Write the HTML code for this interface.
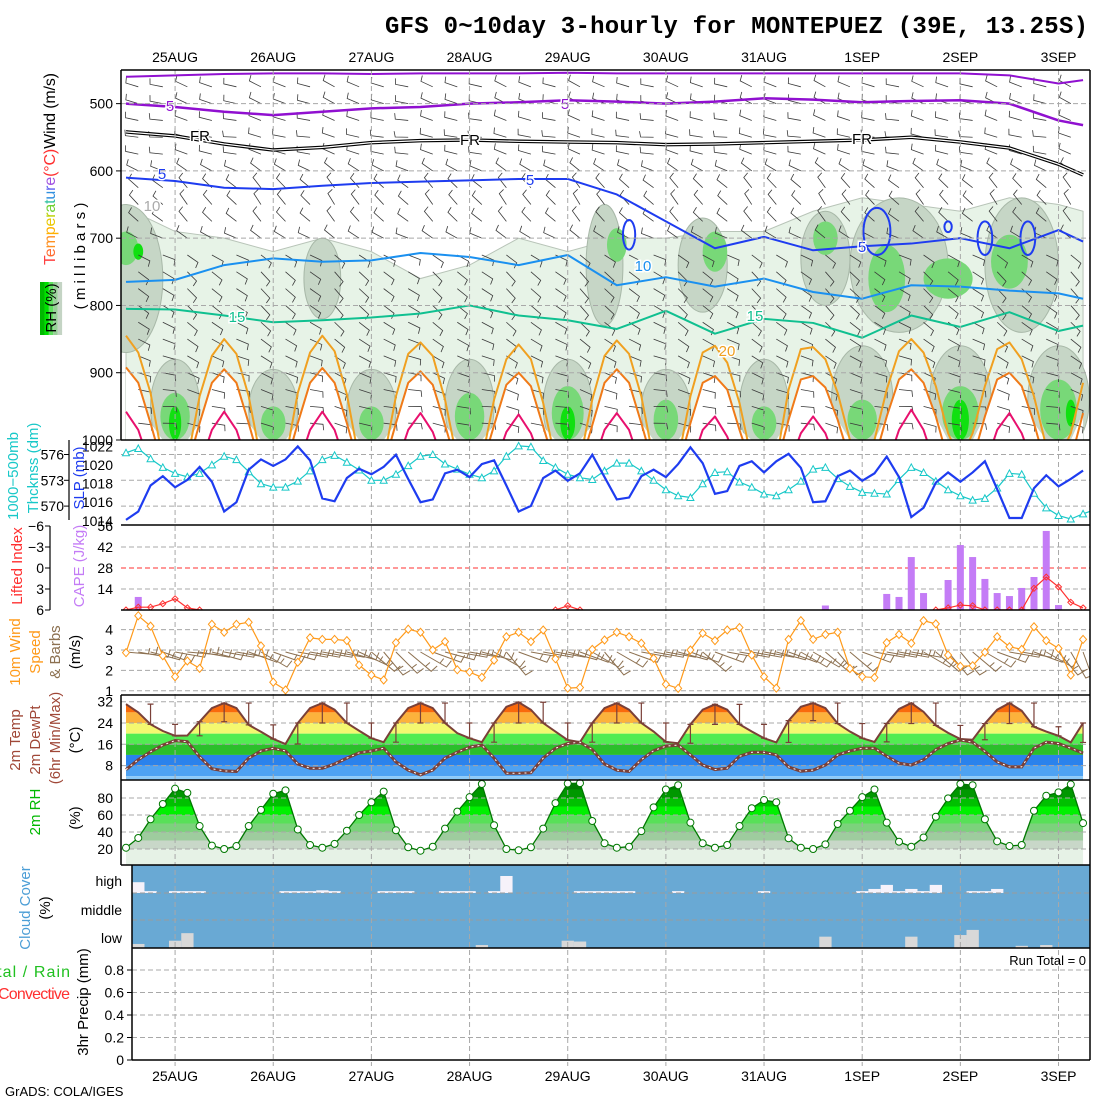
<!DOCTYPE html>
<html><head><meta charset="utf-8"><title>GFS meteogram MONTEPUEZ</title>
<style>
html,body{margin:0;padding:0;background:#fff;}
svg{display:block;font-family:"Liberation Sans",sans-serif;}
</style></head>
<body>
<svg id="chart" width="1100" height="1100" viewBox="0 0 1100 1100" xmlns="http://www.w3.org/2000/svg">
<defs>
<clipPath id="cTop"><rect x="121" y="70" width="969" height="370"/></clipPath>
<clipPath id="cSlp"><rect x="121" y="440" width="969" height="85"/></clipPath>
<clipPath id="cCape"><rect x="121" y="525" width="969" height="85"/></clipPath>
<clipPath id="cWind"><rect x="121" y="610" width="969" height="85"/></clipPath>
<clipPath id="cCloud"><rect x="132" y="865" width="958" height="83"/></clipPath>
</defs>
<rect x="0" y="0" width="1100" height="1100" fill="#fff"/>
<text x="385" y="33" font-family="'Liberation Mono',monospace" font-weight="bold" font-size="24" textLength="703">GFS 0~10day 3-hourly for MONTEPUEZ (39E, 13.25S)</text>
</svg>
<script>
// ---------- data ----------
const dates=['25AUG','26AUG','27AUG','28AUG','29AUG','30AUG','31AUG','1SEP','2SEP','3SEP'];
const slp=[1014.1,1015,1017.8,1018.8,1017.6,1018.4,1019.8,1018.2,1015,1016,1019.5,1020.6,1019.9,1020.6,1022,1020.5,1016.4,1016.1,1018.6,1019.6,1019,
1019.8,1021.1,1018.5,1016,1016.3,1019.1,1019.5,1018.7,1020.1,1020.5,1017.8,1015,1015.6,1018.6,1019.4,1018.3,1019.1,1021.1,1018.7,1016.3,1016.5,1018.8,1019.5,1018.7,1020.1,1021.9,1020.2,1016.9,1017.2,1019.9,
1020.4,1019.2,1020.4,1021.2,1019.7,1016,1016.1,1018.8,1019.4,1018.3,1019.1,1020.9,1018.7,1014.4,1015.4,1018.1,1019.2,1018.2,1019.2,1020.4,1017.4,1014.3,1014.3,1017.5,1018.9,1017.7,1018.5,1019.4];
const thick=[576.2,576.7,575.5,574.5,573.8,573.4,573.8,574.8,575.8,575.4,574,572.6,572.2,572.2,572.9,574.1,575.4,575.9,575.1,574.2,573,
573,573.7,574.7,575.8,576,574.9,574.3,573.7,573.3,574.1,575.8,577,576.9,575.3,574.5,573.7,573.3,573.1,574.1,575,575,574.1,573,571.9,571.2,571,572.6,573.9,574,572.8,
572.2,571.4,571.2,571.9,572.9,574.3,574.5,573.2,572.3,571.6,571.5,571.4,573.1,574.5,573.9,572.9,571.9,571.2,570.7,570.9,572.1,573.8,573.7,571.5,569.8,568.9,568.5,569.1,569.6];
const cape=[0,8.7,0,0,0,0,0,0,0,0, 0,0,0,0,0,0,0,0,0,0, 0,0,0,0,0,0,0,0,0,0, 0,0,0,0,0,0,0,0,0,0, 0,0,0,0,0,0,0,0,0,0,
0,0,0,0,0,0,0,3,0,0, 0,0,10.7,8.7,35.3,11.3,0,20,43.3,35.3, 20.7,11.3,9.3,14.7,22,52.7,3.3,0,0];
const liftIdx=[6,5.6,5.6,5.1,4.4,5.7,6,null,null,null, null,null,null,null,null,null,null,null,null,null, null,null,null,null,null,null,null,null,null,null,
null,null,null,null,null,6,5.4,6,null,null, null,null,null,null,null,null,null,null,null,null, null,null,null,null,null,null,null,null,null,null,
null,null,null,null,null,null,6,5.7,5.3,5.4, 6,6,6,6,2.9,1.3,2.7,4.9,5.7];
const wspd=[2.87,4.68,4.17,2.72,1.69,2.46,2.1,4.26,3.87,4.26,4.36,3.2,1.42,1.04,2.4,3.6,3.52,3.52,3.46,2.26,1.77,
1.53,3.36,4.02,3.87,3.0,3.41,2.03,1.92,1.66,2.5,3.65,3.87,3.41,3.98,2.57,1.13,1.16,3.03,3.49,3.87,3.65,3.33,2.59,1.32,1.12,3.0,3.82,3.46,3.98,4.1,
2.75,1.69,1.13,3.52,4.44,3.52,3.76,3.87,2.09,1.69,1.65,3.36,3.76,3.33,4.44,4.28,2.75,2.2,2.23,2.89,3.65,3.16,3.03,4.14,3.46,3.08,1.77,3.52];
const wdir=[95,100,105,110,100,95,100,105, 100,100,110,120,110,105,100,100, 100,100,105,115,130,140,135,130, 120,110,105,100,100,105,120,140,
110,100,100,100,105,110,120,140, 120,110,100,100,100,105,110,130, 110,100,100,100,100,105,110,120, 120,130,140,130,110,100,100,100,
100,120,130,140,140,130,120,110, 100,100,110,120,140,150,160];
const temp=[31.1,28,23.5,21,19.2,19.3,24.5,29.6,31.5,29.6,23.3,20.7,18,16.1,24,29.6,31.5,29,24,21.1,18.3,16.8,
24,29.6,31.5,29.6,24,20.2,18.3,16.8,24,30.1,31.8,29,24,20.8,17.6,16.8,24,29.6,31.5,29,24,20.8,16.9,16.4,23.5,29,31,29,23.5,
20.8,18.3,16.7,24.9,30.1,31.5,29.6,23.8,20.8,18.3,16.9,23.8,29.3,31.5,28.2,23.1,20.3,18,17.7,23.8,29,31.5,28.6,22.6,20.8,19.2,16.7,24];
const dewpt=[6.5,10.2,13.2,15.7,17.4,17,11.3,6.8,6,5.8,10.8,13.5,14.5,13.5,8.6,7,7,8.6,10.8,12.8,13.5,14.5,
9.4,6.3,4.5,6.3,10.8,13,14.9,15.7,10.8,5.1,5.1,5.3,10.8,14.5,16.3,16.8,14,8.6,6.3,5.8,10.2,13.6,15.3,15.7,12,8.2,6.5,7,11.5,
13,13,12,7.5,5.9,6.3,8.2,12,13.5,14.5,14.5,11.5,8.9,8.2,10.2,14,16.3,17.6,16.8,13.3,9.4,7.5,7.5,14.5,16.8,16.3,14.5,12.7];
const rh2m=[21.5,33,55,73,91,86,47,24,20,23.5,47,66,85,89,43,24.7,21.5,26,41.5,60,75,87.5,
42,22,18,22.7,44,64,81,96.5,48,20,18.5,22,44,74,97,97.5,53,26.7,21.5,22.7,41,69,90,95,51,26.7,21.5,24.7,47,
68,77.6,75,32.6,21.5,20,25.5,49.4,65,81,90,51,28.6,22.7,33.6,58,79.6,96.5,95,55,29,23.5,24.7,65,82.7,86.6,96,50.5];
const cloudHigh=[0,40,7,0,7,7,7,0,0,0, 0,0,0,7,7,7,10,7,0,0, 0,7,7,7,0,0,7,7,7,0, 7,63,0,0,0,0,0,7,7,7, 7,7,0,0,0,7,0,0,0,0,
0,0,7,0,0,0,0,0,0,0, 7,15,30,7,15,7,30,0,0,7, 7,15,0,0,0,0,0,0,0];
const cloudLow=[0,15,0,0,27,55,0,0,0,0, 0,0,0,0,0,0,0,0,0,0, 0,0,0,0,0,0,0,0,0,11, 0,0,0,0,0,0,27,24,0,0, 0,0,0,0,0,0,0,0,0,0,
0,0,0,0,0,0,0,42,0,0, 0,0,0,0,42,0,0,0,48,67, 0,0,0,8,0,11,0,0,0];
const precip=[];
const isoIdx=[0,4,8,12,16,20,24,28,32,36,40,44,48,52,56,60,64,68,72,76,78];
const isoM10=[460,458,456,455,455,456,455,455,455,454,455,455,455,455,455,455,455,455,458,470,465];
const isoM5=[500,505,512,517,512,507,505,500,498,495,497,500,497,492,494,498,496,495,500,525,532];
const isoFR=[542,548,560,569,565,558,555,554,556,557,558,561,560,558,556,554,550,557,566,590,606];
const iso5=[610,615,625,627,622,618,616,614,612,612,635,675,715,698,718,712,708,700,715,688,705];
const iso10=[765,762,740,730,735,733,722,728,740,725,770,758,772,760,780,790,770,772,778,782,790];
const iso15=[805,806,815,825,822,818,812,800,815,822,835,808,842,820,826,848,815,832,810,838,830];
const rhTop=[655,690,700,720,700,720,760,740,700,720,700,700,690,690,660,640,650,660,640,650,660];
const iso20=[845,870,930,1030,1050,1030,935,875, 850,872,935,1030,1050,1030,930,870, 845,868,932,1030,1050,1030,935,872,
855,875,940,1030,1050,1030,940,880, 858,880,945,1030,1050,1030,940,875, 852,872,935,1030,1050,1030,935,870,
860,885,945,1030,1050,1030,925,865, 862,880,930,1000,1030,1000,925,868, 850,870,920,990,1030,990,920,865, 855,880,935,1010,1030,990,915];
const iso25=[892,915,975,1040,1060,1040,975,915, 895,915,975,1040,1060,1040,975,915, 893,915,975,1040,1060,1040,975,915,
898,918,978,1040,1060,1040,978,918, 900,920,980,1040,1060,1040,978,915, 895,915,975,1040,1060,1040,975,915,
905,925,985,1040,1060,1040,970,910, 905,922,970,1030,1060,1030,965,910, 895,915,965,1030,1060,1030,965,910, 900,920,975,1040,1060,1030,960];
const iso30=[958,985,1040,1060,1060,1060,1040,985, 958,985,1040,1060,1060,1060,1040,985, 958,985,1040,1060,1060,1060,1040,985,
960,988,1040,1060,1060,1060,1040,988, 962,990,1040,1060,1060,1060,1040,985, 960,985,1040,1060,1060,1060,1040,985,
965,995,1045,1060,1060,1060,1040,990, 965,990,1040,1060,1060,1060,1040,985, 955,985,1040,1060,1060,1060,1040,985, 960,990,1040,1060,1060,1060,1040];
const rhBlobs=[[0,760,110,3,1],[0,715,25,1,2],[1,720,12,0.4,3],
[4,950,70,2,1],[12,955,60,2,1],[20,955,60,2,1],[28,950,70,2,1],[36,950,70,2,1],[44,955,60,2,1],[52,950,70,2,1],[60,940,80,2.5,1],[68,940,80,2.5,1],[76,940,80,2.5,1],
[16,760,60,1.5,1],[39,740,90,1.5,1],[47,740,70,2,1],[57,730,70,2,1],[63,740,100,4,1],[73,740,100,3,1],
[4,965,35,1.2,2],[12,975,25,1,2],[20,975,25,1,2],[28,965,35,1.2,2],[36,960,40,1.3,2],[44,970,30,1,2],[52,975,25,1,2],[60,970,30,1.2,2],[68,960,40,1.5,2],[76,955,45,1.5,2],
[40,710,25,0.8,2],[48,720,30,1,2],[57,700,25,1,2],[62,760,50,1.5,2],[67,760,30,2,2],[72,735,40,1.5,2],
[4,975,25,0.5,3],[36,975,25,0.6,3],[68,970,30,0.7,3],[77,960,20,0.4,3]];
const blueLoops=[[61.2,690,1.1,35],[67,683,0.3,8],[70,700,0.6,25],[73.5,700,0.6,25],[41,695,0.5,22]];
const barbLev=[475,500,525,550,575,600,625,650,675,700,725,750,775,800,825,850,875,900,925,950,975];
const barbDir=[290,290,285,280,285,300,315,320,315,300,120,130,130,130,125,120,115,110,105,100,100];
const pTicks=[500,600,700,800,900,1000];
const thkTicks=[576,573,570];
const slpTicks=[1022,1020,1018,1016,1014];
const liTicks=[-6,-3,0,3,6];
const capeTicks=[56,42,28,14];
const wsTicks=[4,3,2,1];
const tTicks=[32,24,16,8];
const rhTicks=[80,60,40,20];
const prTicks=[0.8,0.6,0.4,0.2,0];

// ---------- scales ----------
const X=i=>126+i*12.27;
const yP=p=>70+(p-450)*0.6727;
const ySlp=v=>465-(v-1020)*9.3;
const yThk=v=>480.3-(v-573)*8.6;
const yCape=v=>610-v*1.5;
const yLi=v=>568+v*7;
const yWs=v=>650-(v-3)*20.4;
const yT=v=>744.3-(v-16)*2.66;
const yRh=v=>849-(v-20)*0.85;
const yPr=v=>1060-v*112.5;

const NS='http://www.w3.org/2000/svg';
const svg=document.getElementById('chart');
function mk(tag,attrs,parent){const e=document.createElementNS(NS,tag);for(const k in attrs)e.setAttribute(k,attrs[k]);(parent||svg).appendChild(e);return e;}
function grp(clip){const g=mk('g',clip?{'clip-path':'url(#'+clip+')'}:{});return g;}
function txt(s,x,y,attrs,parent){const e=mk('text',Object.assign({x:x,y:y,'font-size':14},attrs||{}),parent);e.textContent=s;return e;}
const GRID='#a8a8a8';
let el;

// ---------- top panel: RH shading ----------
const gTop=grp('cTop');
el=gTop;


let pts=isoIdx.map((i,k)=>X(i)+','+yP(rhTop[k])).join(' ')+' '+X(78)+','+yP(1000)+' '+X(0)+','+yP(1000);
el=mk('polygon',{points:pts,fill:'#e7f3e7',stroke:'#b8c4b8','stroke-width':1},gTop);


const blobCol=['','#c6d6c6','#78d878','#10e010'];
for(const lev of [1,2,3]){
  for(const b of rhBlobs){ if(b[4]!==lev) continue;
    el=mk('ellipse',{cx:X(b[0]),cy:yP(b[1]),rx:b[3]*12.27,ry:b[2]*0.6727,fill:blobCol[lev],stroke:lev===1?'#a8b8a8':'none','stroke-width':1},gTop);
    
    
  }
}
pts=iso25.map((v,i)=>X(i)+','+yP(Math.min(v,1000))).join(' ')+' '+X(78)+','+yP(1000)+' '+X(0)+','+yP(1000);
el=mk('polygon',{points:pts,fill:'#ffffff'},gTop);



// ---------- fills: temperature ----------
pts=temp.map((v,i)=>X(i)+','+yT(v)).join(' ')+' '+X(78)+',780 '+X(0)+',780';
const tcp=mk('clipPath',{id:'cTemp'},svg.querySelector('defs'));
mk('polygon',{points:pts},tcp);
const gT=grp('cTemp');
el=gT;


const tBands=[[28,40,'#f96a0c'],[24,28,'#fcb23c'],[20,24,'#f4f870'],[16,20,'#52ec52'],[12,16,'#2bbf2b'],[8,12,'#2a82ec'],[4,8,'#4ea2f2'],[-5,4,'#8ccaf8']];
for(const b of tBands){
  el=mk('rect',{x:120,y:yT(b[1]),width:970,height:yT(b[0])-yT(b[1]),fill:b[2]},gT);
  
  
}
// ---------- fills: RH ----------
pts=rh2m.map((v,i)=>X(i)+','+yRh(v)).join(' ')+' '+X(78)+',865 '+X(0)+',865';
const rcp=mk('clipPath',{id:'cRh'},svg.querySelector('defs'));
mk('polygon',{points:pts},rcp);
const gR=grp('cRh');
el=gR;


const rBands=[[90,120,'#007a00'],[80,90,'#009800'],[70,80,'#00c000'],[60,70,'#00f000'],[50,60,'#58e058'],[40,50,'#7cd27c'],[30,40,'#9ecc9e'],[20,30,'#c8d7c8'],[-30,20,'#e6f2e6']];
for(const b of rBands){
  el=mk('rect',{x:120,y:yRh(b[1]),width:970,height:yRh(b[0])-yRh(b[1]),fill:b[2]},gR);
  
  
}
// ---------- cloud cover ----------
el=mk('rect',{x:132,y:865,width:958,height:83,fill:'#69a9d4'});


const gC=grp('cCloud');
cloudHigh.forEach((v,i)=>{ if(!v) return;
  el=mk('rect',{x:X(i)-6.1,y:893-v*0.27,width:12.3,height:v*0.27,fill:'#f6f2fa'},gC);
  
  
});
cloudLow.forEach((v,i)=>{ if(!v) return;
  el=mk('rect',{x:X(i)-6.1,y:948-v*0.27,width:12.3,height:v*0.27,fill:'#d8d8d8'},gC);
  
  
});

// ---------- grids ----------
function hgrid(y,x1,x2,col,name){el=mk('line',{x1:x1,y1:y,x2:x2,y2:y,stroke:col||GRID,'stroke-width':1,'stroke-dasharray':'5,3'});}
pTicks.slice(0,5).forEach(p=>hgrid(yP(p),121,1090,null,'pressure-gridline'));
thkTicks.forEach(v=>hgrid(yThk(v),121,1090,null,'thickness-gridline'));
capeTicks.slice(1).forEach(v=>hgrid(yCape(v),121,1090,v===28?'#ff3030':null,v===28?'lifted-index-zero-line':'cape-gridline'));
wsTicks.forEach(v=>hgrid(yWs(v),121,1090,null,'wind-gridline'));
tTicks.forEach(v=>hgrid(yT(v),121,1090,null,'temp-gridline'));
rhTicks.forEach(v=>hgrid(yRh(v),121,1090,null,'rh-gridline'));
[893,920].forEach(v=>hgrid(v,132,1090,'#9a9a9a','cloud-gridline'));
prTicks.slice(0,4).forEach(v=>hgrid(yPr(v),132,1090,null,'precip-gridline'));
dates.forEach((d,k)=>{
  el=mk('line',{x1:X(4+8*k),y1:70,x2:X(4+8*k),y2:1066,stroke:GRID,'stroke-width':1,'stroke-dasharray':'5,3'});
  
  
});

// ---------- top panel lines ----------
function isoLine(arr,idxArr,col,w,name){
  const p=arr.map((v,k)=>X(idxArr?idxArr[k]:k)+','+yP(v)).join(' ');
  el=mk('polyline',{points:p,fill:'none',stroke:col,'stroke-width':w,'stroke-linejoin':'round'},gTop);
  
  
}
// barbs (drawn below contours)
for(let i=1;i<79;i+=2){
  barbLev.forEach((p,k)=>{
    const d=(barbDir[k]+((i*7)%20)-10)*Math.PI/180;
    const x0=X(i),y0=yP(p),L=13;
    const x1=x0+L*Math.sin(d),y1=y0-L*Math.cos(d);
    const fx=x1+6*Math.sin(d+Math.PI/2.3),fy=y1-6*Math.cos(d+Math.PI/2.3);
    el=mk('path',{d:'M'+x0+' '+y0+'L'+x1+' '+y1+'L'+fx+' '+fy,fill:'none',stroke:'#3a3a3a','stroke-width':0.8},gTop);
    
    
  });
}
isoLine(isoM10,isoIdx,'#9010d0',2,'isotherm-minus10');
isoLine(isoM5,isoIdx,'#9010d0',2.5,'isotherm-minus5');
isoLine(isoFR,isoIdx,'#000',3.5,'freezing-level');
isoLine(isoFR,isoIdx,'#fff',1.2,'freezing-level-inner');
isoLine(iso5,isoIdx,'#1e3cf0',2,'isotherm-5');
isoLine(iso10,isoIdx,'#1a90f0',2,'isotherm-10');
isoLine(iso15,isoIdx,'#10c090',2,'isotherm-15');
isoLine(iso20,null,'#f0a020',2,'isotherm-20');
isoLine(iso25,null,'#f07a18',2,'isotherm-25');
isoLine(iso30,null,'#e8106e',2,'isotherm-30');
blueLoops.forEach(b=>{
  el=mk('ellipse',{cx:X(b[0]),cy:yP(b[1]),rx:b[2]*12.27,ry:b[3]*0.6727,fill:'none',stroke:'#1e3cf0','stroke-width':2},gTop);
  
  
});
const isoLabels=[['5',170,111,'#9010d0'],['5',565,109,'#9010d0'],['FR',200,141,'#000'],['FR',470,145,'#000'],['FR',862,144,'#000'],['5',162,179,'#1e3cf0'],['5',530,185,'#1e3cf0'],['5',862,252,'#1e3cf0'],['10',643,271,'#1a90f0'],['15',237,322,'#10c090'],['15',755,321,'#10c090'],['20',727,356,'#f0a020'],['10',152,211,'#aaa']];
isoLabels.forEach(l=>{
  el=txt(l[0],l[1],l[2],{fill:l[3],'font-size':15,'text-anchor':'middle',stroke:'#fff','stroke-width':3,'paint-order':'stroke'},gTop);
  
  
});

// ---------- SLP / thickness ----------
const gS=grp('cSlp');
el=mk('polyline',{points:thick.map((v,i)=>X(i)+','+yThk(v)).join(' '),fill:'none',stroke:'#18c8c8','stroke-width':1.2},gS);


thick.forEach((v,i)=>{
  const x=X(i),y=yThk(v);
  el=mk('polygon',{points:(x-3.5)+','+(y+3)+' '+(x+3.5)+','+(y+3)+' '+x+','+(y-3.5),fill:'#fff',stroke:'#18c8c8','stroke-width':1},gS);
  
  
});
el=mk('polyline',{points:slp.map((v,i)=>X(i)+','+ySlp(v)).join(' '),fill:'none',stroke:'#1e3cf0','stroke-width':2.2},gS);



// ---------- CAPE / LI ----------
const gCa=grp('cCape');
cape.forEach((v,i)=>{ if(!v) return;
  el=mk('rect',{x:X(i)-3.5,y:yCape(v),width:7,height:610-yCape(v),fill:'#c47cf6'},gCa);
  
  
});
let seg=[];
const liSegs=[];
liftIdx.forEach((v,i)=>{ if(v===null){ if(seg.length) liSegs.push(seg); seg=[]; } else seg.push([X(i),yLi(v)]); });
if(seg.length) liSegs.push(seg);
liSegs.forEach(s=>{
  el=mk('polyline',{points:s.map(p=>p.join(',')).join(' '),fill:'none',stroke:'#ff3030','stroke-width':1.2},gCa);
  
  
  s.forEach(p=>{
    el=mk('polygon',{points:p[0]+','+(p[1]-3)+' '+(p[0]+3)+','+p[1]+' '+p[0]+','+(p[1]+3)+' '+(p[0]-3)+','+p[1],fill:'none',stroke:'#ff3030','stroke-width':1},gCa);
    
    
  });
});

// ---------- wind ----------
const gW=grp('cWind');
wdir.forEach((d0,i)=>{
  const d=d0*Math.PI/180,x0=X(i),y0=652,L=30;
  const x1=x0+L*Math.sin(d),y1=y0-L*Math.cos(d);
  const fx=x1+8*Math.sin(d-Math.PI/2.2),fy=y1-8*Math.cos(d-Math.PI/2.2);
  const mx=x0+0.75*L*Math.sin(d),my=y0-0.75*L*Math.cos(d);
  const gx=mx+6*Math.sin(d-Math.PI/2.2),gy=my-6*Math.cos(d-Math.PI/2.2);
  el=mk('path',{d:'M'+x0+' '+y0+'L'+x1+' '+y1+'L'+fx+' '+fy+'M'+mx+' '+my+'L'+gx+' '+gy,fill:'none',stroke:'#8c7050','stroke-width':1},gW);
  
  
});
el=mk('polyline',{points:wspd.map((v,i)=>X(i)+','+yWs(v)).join(' '),fill:'none',stroke:'#ff9a1a','stroke-width':1.2},gW);


wspd.forEach((v,i)=>{
  const x=X(i),y=yWs(v);
  el=mk('polygon',{points:x+','+(y-4)+' '+(x+3.5)+','+y+' '+x+','+(y+4)+' '+(x-3.5)+','+y,fill:'#fff',stroke:'#ff9a1a','stroke-width':1},gW);
  
  
});

// ---------- temperature lines ----------
el=mk('polyline',{points:temp.map((v,i)=>X(i)+','+yT(v)).join(' '),fill:'none',stroke:'#7a4038','stroke-width':2});


el=mk('polyline',{points:dewpt.map((v,i)=>X(i)+','+yT(v)).join(' '),fill:'none',stroke:'#7a4038','stroke-width':3});


el=mk('polyline',{points:dewpt.map((v,i)=>X(i)+','+yT(v)).join(' '),fill:'none',stroke:'#fff','stroke-width':1,'stroke-dasharray':'2,4'});


for(let i=2;i<79;i+=2){
  const seg3=temp.slice(i-2,i+1);
  const hi=Math.max(...seg3),lo=Math.min(...seg3),x=X(i);
  el=mk('path',{d:'M'+x+' '+yT(hi)+'V'+yT(lo)+'M'+(x-3)+' '+yT(hi)+'h6M'+(x-3)+' '+yT(lo)+'h6',stroke:'#7a4038','stroke-width':1.2,fill:'none'});
  
  
}
// ---------- RH line ----------
el=mk('polyline',{points:rh2m.map((v,i)=>X(i)+','+yRh(v)).join(' '),fill:'none',stroke:'#007800','stroke-width':1.3});


rh2m.forEach((v,i)=>{
  el=mk('circle',{cx:X(i),cy:yRh(v),r:3.5,fill:'#fff',stroke:'#007800','stroke-width':1});
  
  
});

// ---------- frames ----------
function ln(x1,y1,x2,y2,name,w){el=mk('line',{x1:x1,y1:y1,x2:x2,y2:y2,stroke:'#000','stroke-width':w||1.5});}
ln(121,70,1090,70,'frame-top');
ln(1090,70,1090,1060,'frame-right');
ln(121,70,121,440,'frame-left-upper');
ln(121,695,121,865,'frame-left-temp-rh');
ln(132,865,132,1060,'frame-left-cloud-precip');
[440,525,610,695,780,865].forEach(y=>ln(121,y,1090,y,'panel-separator'));
ln(132,948,1090,948,'panel-separator');
ln(132,1060,1090,1060,'frame-bottom');
ln(69,440,69,520,'thickness-axis',1.2);
ln(50,526,50,610,'lifted-index-axis',1.2);

// ---------- tick labels ----------
function tick(s,x,y,name){el=txt(s,x,y+5,{'text-anchor':'end'});}
pTicks.forEach(p=>{tick(String(p),113,yP(p),'pressure-tick-label');ln(116,yP(p),121,yP(p),'tick',1);});
thkTicks.forEach(v=>{tick(String(v),64,yThk(v),'thickness-tick-label');ln(64,yThk(v),69,yThk(v),'tick',1);});
slpTicks.forEach(v=>tick(String(v),113,ySlp(v),'slp-tick-label'));
liTicks.forEach(v=>{tick(v<0?'−'+(-v):String(v),44,yLi(v),'li-tick-label');ln(45,yLi(v),50,yLi(v),'tick',1);});
capeTicks.forEach(v=>tick(String(v),113,yCape(v),'cape-tick-label'));
wsTicks.forEach(v=>tick(String(v),113,yWs(v),'wind-tick-label'));
tTicks.forEach(v=>tick(String(v),113,yT(v),'temp-tick-label'));
rhTicks.forEach(v=>tick(String(v),113,yRh(v),'rh-tick-label'));
[['high',881],['middle',910],['low',938]].forEach(c=>tick(c[0],122,c[1],'cloud-level-label'));
prTicks.forEach(v=>{tick(v===0?'0':String(v),124,yPr(v),'precip-tick-label');ln(127,yPr(v),132,yPr(v),'tick',1);});
dates.forEach((d,k)=>{
  el=txt(d,X(4+8*k),62,{'text-anchor':'middle'});
  
  
  el=txt(d,X(4+8*k),1081,{'text-anchor':'middle'});
  
  
});

// ---------- titles ----------
function vt(s,x,y,col,name,anchor,size){el=txt(s,x,y,{fill:col,'font-size':size||15,'text-anchor':anchor||'middle',transform:'rotate(-90 '+x+' '+y+')'});return el;}
vt('( m i l l i b a r s )',85,256,'#000','pressure-axis-title');
const tw=vt('',55,265,'#000','temp-wind-title','start',16);
tw.setAttribute('textLength','192');
const tcols=['#ff4040','#ff6a30','#ff9020','#ffb000','#e8c800','#b8d000','#70d030','#30c0a0','#3090e0','#6060f0','#a050e0'];
'Temperature'.split('').forEach((c,k)=>{const s=mk('tspan',{fill:tcols[k]},tw);s.textContent=c;});
let ts=mk('tspan',{fill:'#ff3030'},tw);ts.textContent='(°C)';
ts=mk('tspan',{fill:'#000'},tw);ts.textContent='Wind (m/s)';
['#00b800','#00e000','#60e060','#98d098','#c4d4c4'].forEach((c,k)=>{
  el=mk('rect',{x:40+k*4.4,y:282,width:4.5,height:53,fill:c});
  
  
});
vt('RH (%)',56,308,'#000','rh-shading-title');
vt('1000−500mb',18,476,'#18c8c8','thickness-title');
vt('Thcknss (dm)',38,468,'#18c8c8','thickness-unit-title');
vt('SLP (mb)',84,478,'#1e3cf0','slp-title');
vt('Lifted Index',22,566,'#ff3030','lifted-index-title');
vt('CAPE (J/kg)',84,566,'#c47cf6','cape-title');
vt('10m Wind',20,652,'#ff9a1a','wind-speed-title');
vt('Speed',40,652,'#ff9a1a','wind-speed-title-2');
vt('& Barbs',60,652,'#8c7050','wind-barbs-title');
vt('(m/s)',80,652,'#000','wind-unit-title');
vt('2m Temp',20,740,'#a04838','temp-title');
vt('2m DewPt',40,740,'#a04838','dewpoint-title');
vt('(6hr Min/Max)',60,738,'#a04838','minmax-title');
vt('(°C)',80,740,'#000','temp-unit-title');
vt('2m RH',40,812,'#00b800','rh-title');
vt('(%)',80,818,'#000','rh-unit-title');
vt('Cloud Cover',30,908,'#4c9ed6','cloud-title');
vt('(%)',50,908,'#000','cloud-unit-title');
vt('3hr Precip (mm)',88,1002,'#000','precip-title');
el=txt('Total / Rain',-22,977,{fill:'#20c020','font-size':16,textLength:92});


el=txt('Convective',-2,999,{fill:'#ff3030','font-size':16,textLength:72});


el=txt('Run Total = 0',1086,965,{'text-anchor':'end','font-size':13});


el=txt('GrADS: COLA/IGES',5,1096,{'font-size':13});


</script>
</body></html>
